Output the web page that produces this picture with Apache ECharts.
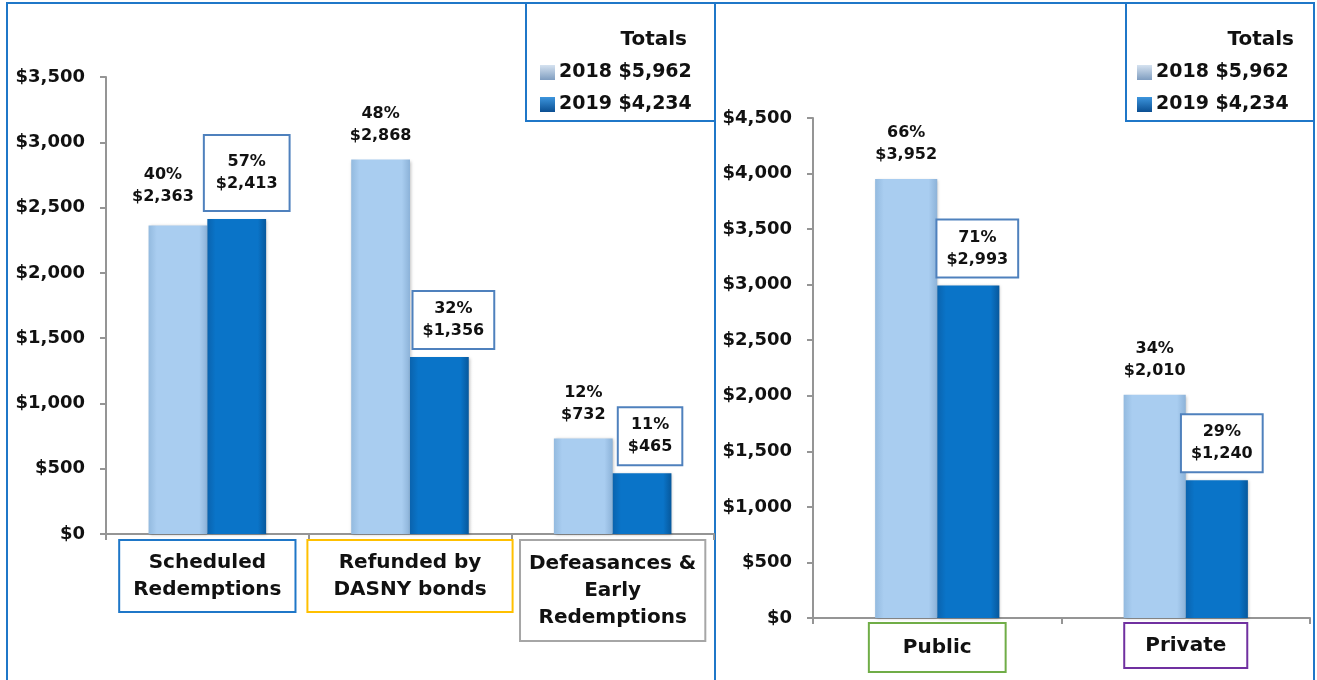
<!DOCTYPE html>
<html>
<head>
<meta charset="utf-8">
<script src="https://cdn.jsdelivr.net/npm/echarts@6/dist/echarts.min.js"></script>
<style>
  html, body { margin: 0; padding: 0; background: #fff; }
  #main { width: 1317px; height: 680px; }
</style>
</head>
<body>
<div id="main"></div>
<script>
// left panel: how bonds were retired
const categoriesL = ['Scheduled\nRedemptions', 'Refunded by\nDASNY bonds', 'Defeasances &\nEarly\nRedemptions'];
const values2018L = [2363, 2868, 732];
const values2019L = [2413, 1356, 465];
const pct2018L = [40, 48, 12];
const pct2019L = [57, 32, 11];

// right panel: public vs private
const categoriesR = ['Public', 'Private'];
const values2018R = [3952, 2010];
const values2019R = [2993, 1240];
const pct2018R = [66, 34];
const pct2019R = [71, 29];

const years = ['2018', '2019'];
const yearTotals = [5962, 4234];

const axisMaxL = 3500;
const axisMaxR = 4500;
const tickStep = 500;

const FONT = 'DejaVu Sans';
const panelBlue = '#1f77c8';

function money(v) {
  return '$' + String(v).replace(/\B(?=(\d{3})+(?!\d))/g, ',');
}

function barFace(edge, face, edge2) {
  return {
    type: 'linear', x: 0, y: 0, x2: 1, y2: 0,
    colorStops: [
      {offset: 0, color: edge},
      {offset: 0.14, color: face},
      {offset: 0.86, color: face},
      {offset: 1, color: edge2}
    ]
  };
}
const lightFace = barFace('#93badf', '#a9cdf0', '#8cb2d8');
const darkFace = barFace('#0a63ae', '#0a74c8', '#07589c');

// per-item label tweaks (layout only)
const plainTweakL = [{offset: [-15, 0], distance: 18}, {}, {}];
const boxTweakL = [{offset: [10, 0], padding: [15, 11]}, {offset: [14, 0]}, {offset: [8, 0]}];
const boxTweakR = [{offset: [9, 0]}, {offset: [5, 0]}];

function barSeries(name, values, pct, idx, face, boxed, tweaks) {
  return {
    name: name,
    type: 'bar',
    xAxisIndex: idx,
    yAxisIndex: idx,
    barGap: '0%',
    barCategoryGap: idx === 0 ? '42%' : '50%',
    itemStyle: {
      color: face,
      shadowColor: 'rgba(0,0,0,0.25)',
      shadowBlur: 3,
      shadowOffsetX: 1,
      shadowOffsetY: 1
    },
    label: {
      show: true,
      position: 'top',
      distance: boxed ? 9 : 13,
      fontFamily: FONT,
      fontWeight: 'bold',
      fontSize: 16,
      lineHeight: 22,
      color: '#111',
      backgroundColor: boxed ? '#fff' : 'transparent',
      borderColor: boxed ? '#4f81bd' : 'transparent',
      borderWidth: boxed ? 2 : 0,
      padding: boxed ? [6, 9] : 0,
      formatter: function (p) {
        return pct[p.dataIndex] + '%\n' + money(p.value);
      }
    },
    data: values.map(function (v, i) {
      const t = (tweaks && tweaks[i]) || {};
      return {value: v, label: t};
    })
  };
}

function catItem(text, border, pad) {
  return {
    value: text,
    textStyle: {
      borderColor: border,
      borderWidth: 2,
      padding: pad,
      backgroundColor: '#fff'
    }
  };
}

const catStyle = [
  [panelBlue, [8, 13]],
  ['#ffc000', [8, 25]],
  ['#a6a6a6', [9, 8]]
];
const catStyleR = [
  ['#70ad47', [10, 33]],
  ['#7030a0', [8, 20]]
];

function yAxis(idx, max) {
  return {
    type: 'value',
    gridIndex: idx,
    min: 0,
    max: max,
    interval: tickStep,
    splitLine: {show: false},
    axisLine: {show: true, lineStyle: {color: '#959595', width: 2}},
    axisTick: {show: true, length: 6, lineStyle: {color: '#959595', width: 2}},
    axisLabel: {
      margin: 21,
      fontFamily: FONT,
      fontWeight: 'bold',
      fontSize: 18,
      color: '#111',
      formatter: money
    }
  };
}

function xAxis(idx, data, margin) {
  return {
    type: 'category',
    gridIndex: idx,
    data: data,
    axisLine: {lineStyle: {color: '#959595', width: 2}},
    axisTick: {show: true, length: 6, lineStyle: {color: '#959595', width: 2}},
    axisLabel: {
      interval: 0,
      margin: margin,
      fontFamily: FONT,
      fontWeight: 'bold',
      fontSize: 20,
      lineHeight: 27,
      color: '#111'
    }
  };
}

function legendFor(left) {
  return {
    orient: 'vertical',
    left: left,
    top: 63,
    padding: 0,
    itemWidth: 15,
    itemHeight: 15,
    itemGap: 13,
    icon: 'rect',
    selectedMode: false,
    textStyle: {fontFamily: FONT, fontWeight: 'bold', fontSize: 19, color: '#111', padding: [0, 0, 0, -1]},
    formatter: function (name) {
      return name + ' ' + money(yearTotals[years.indexOf(name)]);
    },
    data: [
      {name: years[0], itemStyle: {color: {type: 'linear', x: 0, y: 0, x2: 0, y2: 1,
        colorStops: [{offset: 0, color: '#d5e2f0'}, {offset: 1, color: '#7f9dc0'}]}}},
      {name: years[1], itemStyle: {color: {type: 'linear', x: 0, y: 0, x2: 0, y2: 1,
        colorStops: [{offset: 0, color: '#3d95dd'}, {offset: 1, color: '#0b4f92'}]}}}
    ]
  };
}

let myChart = echarts.init(document.getElementById('main'));
let option = {
  animation: false,
  backgroundColor: '#fff',
  grid: [
    {left: 106, top: 77, width: 608, bottom: 146, outerBoundsMode: 'none'},
    {left: 813, top: 118, width: 497, bottom: 62, outerBoundsMode: 'none'}
  ],
  legend: [legendFor(540), legendFor(1137)],
  xAxis: [
    xAxis(0, categoriesL.map(function (c, i) { return catItem(c, catStyle[i][0], catStyle[i][1]); }), 7),
    xAxis(1, categoriesR.map(function (c, i) { return catItem(c, catStyleR[i][0], catStyleR[i][1]); }), 6)
  ],
  yAxis: [yAxis(0, axisMaxL), yAxis(1, axisMaxR)],
  series: [
    barSeries(years[0], values2018L, pct2018L, 0, lightFace, false, plainTweakL),
    barSeries(years[1], values2019L, pct2019L, 0, darkFace, true, boxTweakL),
    barSeries(years[0], values2018R, pct2018R, 1, lightFace, false, null),
    barSeries(years[1], values2019R, pct2019R, 1, darkFace, true, boxTweakR)
  ],
  graphic: [
    // panel frames
    {type: 'rect', shape: {x: 7, y: 3, width: 708, height: 700}, style: {fill: 'none', stroke: panelBlue, lineWidth: 2}, silent: true},
    {type: 'rect', shape: {x: 715, y: 3, width: 599, height: 700}, style: {fill: 'none', stroke: panelBlue, lineWidth: 2}, silent: true},
    // legend frames
    {type: 'rect', shape: {x: 526, y: 3, width: 189, height: 118}, style: {fill: 'none', stroke: panelBlue, lineWidth: 2}, silent: true},
    {type: 'rect', shape: {x: 1126, y: 3, width: 188, height: 118}, style: {fill: 'none', stroke: panelBlue, lineWidth: 2}, silent: true},
    {type: 'text', x: 687, y: 40, style: {text: 'Totals', align: 'right', verticalAlign: 'middle', font: 'bold 20px "DejaVu Sans"', fill: '#111'}},
    {type: 'text', x: 1294, y: 40, style: {text: 'Totals', align: 'right', verticalAlign: 'middle', font: 'bold 20px "DejaVu Sans"', fill: '#111'}}
  ]
};

myChart.setOption(option);
</script>
</body>
</html>
